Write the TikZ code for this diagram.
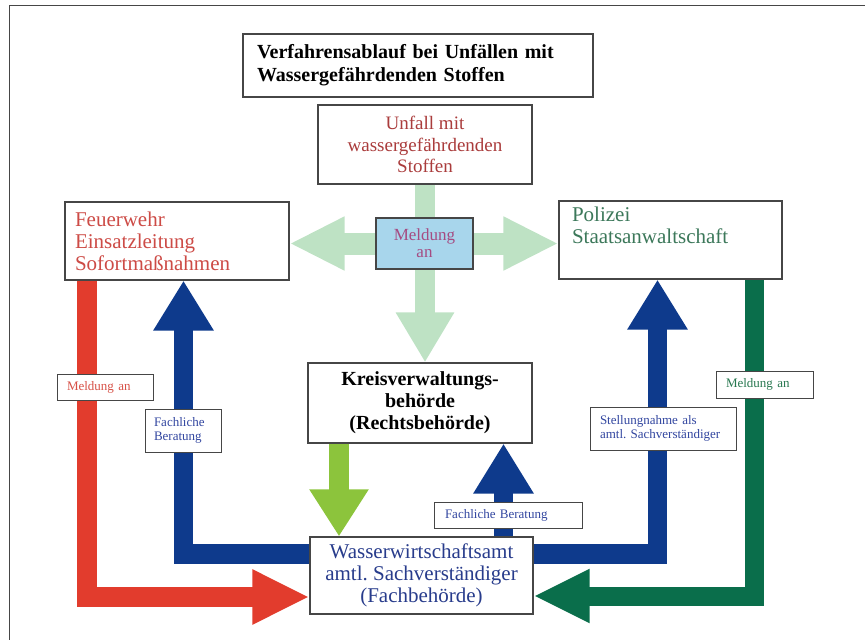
\documentclass[tikz,border=0pt]{standalone}
\usepackage{fontspec}
\setmainfont{Liberation Serif}
\usepackage{tikz}
\usetikzlibrary{arrows.meta,backgrounds}
\frenchspacing

\definecolor{randgrau}{RGB}{70,70,70}
\definecolor{hellgruen}{RGB}{190,226,196}
\definecolor{meldblau}{RGB}{168,214,236}
\definecolor{meldlila}{RGB}{165,75,130}
\definecolor{pfeilrot}{RGB}{226,60,45}
\definecolor{pfeilblau}{RGB}{14,58,140}
\definecolor{pfeilgruen}{RGB}{10,110,75}
\definecolor{pfeilgelb}{RGB}{140,196,60}
\definecolor{feuerrot}{RGB}{205,75,70}
\definecolor{unfallrot}{RGB}{170,60,60}
\definecolor{polgruen}{RGB}{60,120,90}
\definecolor{wasserblau}{RGB}{40,60,140}
\definecolor{schildblau}{RGB}{50,70,160}
\definecolor{schildrot}{RGB}{215,80,70}
\definecolor{schildgruen}{RGB}{40,120,80}

\tikzset{
  kasten/.style={draw=randgrau, line width=1.2pt, fill=white, inner ysep=0pt,
    font=\fontsize{21}{22}\selectfont},
  schild/.style={draw=randgrau, line width=1pt, fill=white, align=left,
    inner xsep=10pt, inner ysep=0pt, font=\fontsize{13}{13.5}\selectfont},
  hgsenk/.style={draw=hellgruen, line width=20pt, -{Triangle[length=50pt,width=55pt]}},
  hgwaag/.style={draw=hellgruen, line width=22pt, -{Triangle[length=55pt,width=50pt]}},
  rotpfeil/.style={draw=pfeilrot, line width=20pt, -{Triangle[length=57pt,width=51pt]}},
  blaupfeil/.style={draw=pfeilblau, line width=19.5pt, -{Triangle[length=50pt,width=57pt]}},
  gruenpfeil/.style={draw=pfeilgruen, line width=19pt, -{Triangle[length=56pt,width=50pt]}},
  gelbpfeil/.style={draw=pfeilgelb, line width=20pt, -{Triangle[length=47pt,width=56pt]}},
}

\begin{document}
\begin{tikzpicture}[x=1pt,y=-1pt]
\useasboundingbox (0,0) rectangle (865,640);
\draw[randgrau, line width=1pt] (9,640) -- (9,5) -- (865,5);

% Kaesten
\node[kasten, font=\fontsize{20}{23}\selectfont\bfseries, align=left, inner xsep=14pt,
  text width=322pt, minimum height=63pt] (titel) at (418,65.5)
  {Verfahrensablauf bei Unfällen mit\\Wassergefährdenden Stoffen};
\node[kasten, font=\fontsize{19}{21.5}\selectfont, text=unfallrot, align=center,
  minimum width=214pt, minimum height=79pt] (unfall) at (425,144.5)
  {Unfall mit\\wassergefährdenden\\Stoffen};
\node[kasten, text=feuerrot, align=left, inner xsep=10pt, text width=204pt,
  minimum height=78pt] (feuer) at (177,241)
  {Feuerwehr\\Einsatzleitung\\Sofortmaßnahmen};
\node[kasten, text=polgruen, align=left, inner xsep=13pt, text width=197pt,
  minimum height=78pt] (polizei) at (670.5,240)
  {Polizei\\Staatsanwaltschaft\\\strut};
\node[kasten, fill=meldblau, text=meldlila, font=\fontsize{17}{17}\selectfont,
  align=center, minimum width=97pt, minimum height=51pt] (meldung) at (424.5,243.5)
  {Meldung\\an};
\node[kasten, font=\fontsize{20}{22}\selectfont\bfseries, align=center,
  minimum width=224pt, minimum height=80pt] (kreis) at (420,403)
  {Kreisverwaltungs-\\behörde\\(Rechtsbehörde)};
\node[kasten, text=wasserblau, align=center, minimum width=223pt,
  minimum height=77pt] (wasser) at (421.5,575.5)
  {Wasserwirtschaftsamt\\amtl. Sachverständiger\\(Fachbehörde)};

% Schilder an den Pfeilen
\node[schild, text=schildrot, text width=76pt, minimum height=26pt] (mrot) at (105,387) {Meldung an};
\node[schild, text=schildblau, inner xsep=9pt, text width=58pt, minimum height=43pt] (fblinks) at (183,430.5) {Fachliche\\Beratung};
\node[schild, text=schildblau, inner xsep=11pt, text width=126pt, minimum height=26pt] (fbmitte) at (508,515) {Fachliche Beratung};
\node[schild, text=schildblau, text width=126pt, minimum height=43pt] (stell) at (663,428.5) {Stellungnahme als\\amtl. Sachverständiger};
\node[schild, text=schildgruen, text width=77pt, minimum height=27pt] (mgruen) at (764.5,384.5) {Meldung an};

% Knickpunkte
\coordinate (rk) at (86.5,597);
\coordinate (bl) at (183.5,554);
\coordinate (br) at (657.5,554);
\coordinate (gk) at (754.5,596);
\coordinate (gx) at (339,0);
\coordinate (mx) at (503.5,0);

\begin{scope}[on background layer]
\draw[hgsenk] (unfall.south) -- (unfall.south |- kreis.north);
\draw[hgwaag] (meldung.center) -- (meldung.center -| feuer.east);
\draw[hgwaag] (meldung.center) -- (meldung.center -| polizei.west);
\draw[rotpfeil] (feuer.south -| rk) -- (rk) -- (rk -| wasser.west);
\draw[blaupfeil] (wasser.west |- bl) -| (feuer.south -| bl);
\draw[blaupfeil] (wasser.east |- br) -| (polizei.south -| br);
\draw[gruenpfeil] (polizei.south -| gk) -- (gk) -- (gk -| wasser.east);
\draw[gelbpfeil] (kreis.south -| gx) -- (wasser.north -| gx);
\draw[blaupfeil] (wasser.north -| mx) -- (kreis.south -| mx);
\end{scope}

\end{tikzpicture}
\end{document}
